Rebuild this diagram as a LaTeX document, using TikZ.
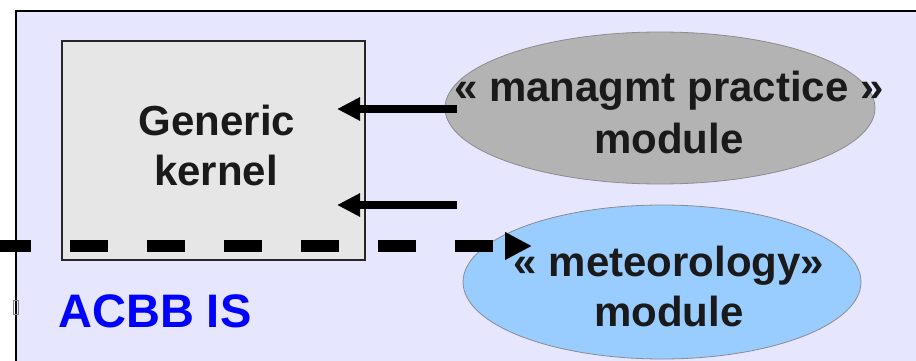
\documentclass[tikz,border=0pt]{standalone}
\usepackage{fontspec}
\setmainfont{Liberation Sans}
\usetikzlibrary{arrows.meta,shapes.geometric,calc}
\definecolor{panelbg}{HTML}{E6E6FF}
\definecolor{kernelbg}{HTML}{E6E6E6}
\definecolor{mgmtbg}{HTML}{B3B3B3}
\definecolor{meteobg}{HTML}{99CCFF}
\definecolor{ink}{HTML}{1A1A1A}
\tikzset{
  kernelbox/.style={rectangle, draw=black!85, line width=1.5pt, fill=kernelbg,
    inner sep=0pt, outer sep=0pt},
  modblob/.style={ellipse, draw=black!45, line width=0.8pt,
    inner sep=0pt, outer sep=0pt},
  lbl/.style={inner sep=0pt, outer sep=0pt, text=ink,
    font=\fontsize{42pt}{50pt}\selectfont\bfseries},
  flowarrow/.style={line width=8.5pt, -{Triangle[length=23pt,width=22pt]}},
  dasharrow/.style={line width=12pt, line cap=butt,
    dash pattern=on 38pt off 39pt, dash phase=7pt,
    -{Triangle[length=27pt,width=26pt]}}
}
\begin{document}
\begin{tikzpicture}[x=1pt,y=-1pt]
\useasboundingbox (0,0) rectangle (916,361);

% information-system frame
\fill[panelbg] (16,11) rectangle (920,365);
\draw[line width=2pt] (16,365) -- (16,11) -- (920,11);

% kernel and modules
\node[kernelbox, minimum width=303pt, minimum height=219pt] (kernel) at (213.5,150.5) {};
\node[modblob, fill=mgmtbg, minimum width=430pt, minimum height=152pt] (mgmt) at (660,108) {};
\node[modblob, fill=meteobg, minimum width=398pt, minimum height=154pt] (meteo) at (662,282) {};

% labels
\node[lbl, anchor=base] (gen1) at (217,135) {Generic};
\node[lbl, anchor=base] (gen2) at (216,185) {kernel};
\node[lbl, anchor=base] (mg1) at (669,101) {« managmt practice »};
\node[lbl, anchor=base] (mg2) at (669,153) {module};
\node[lbl, anchor=base] (me1) at (669,276) {« meteorology»};
\node[lbl, anchor=base] (me2) at (669,326) {module};
\node[inner sep=0pt, anchor=base west, text=blue,
  font=\fontsize{47pt}{54pt}\selectfont\bfseries] (acbb) at (58,327) {ACBB IS};
\draw[black!50, line width=0.8pt] (13,300) rectangle (18,314);

% connectors
\coordinate (src1) at (457,109);
\coordinate (src2) at (457,205);
\draw[flowarrow] (src1) -- ($(kernel.east |- src1)+(-28,0)$);
\draw[flowarrow] (src2) -- ($(kernel.east |- src2)+(-28,0)$);

\coordinate (dstart) at (0,246);
\coordinate (dtip) at (532,246);
\draw[dasharrow] (dstart) -- (dtip);
\end{tikzpicture}
\end{document}
